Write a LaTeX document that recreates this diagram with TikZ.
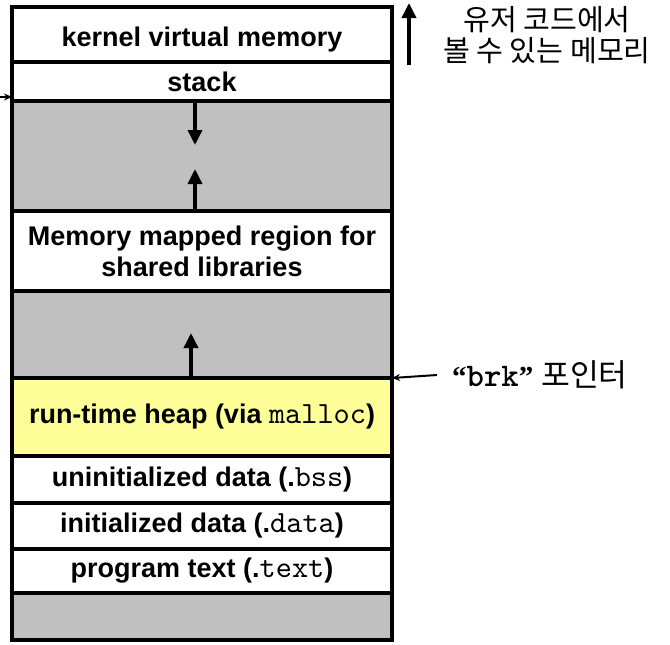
\documentclass[tikz,border=0pt]{standalone}
\usepackage{fontspec}
\setmainfont{Liberation Sans}
\setmonofont{lmmono10-regular.otf}[Scale=1.14,BoldFont=lmmonolt10-bold.otf]
\newfontfamily\krfont{Noto Sans CJK KR}[Scale=1.08]
\newfontfamily\quotefont{Liberation Serif}
\usetikzlibrary{arrows.meta}

\definecolor{gapgray}{HTML}{C0C0C0}
\definecolor{heapyellow}{HTML}{FFFF99}

\begin{document}
\begin{tikzpicture}[x=1pt,y=-1pt,
  seg/.style={draw,line width=4pt,minimum width=380pt,inner sep=0pt,outer sep=0pt,
    fill=white,align=center,font=\fontsize{27}{31}\selectfont\bfseries},
  gap/.style={seg,fill=gapgray},
  growarrow/.style={-{Triangle[length=15pt,width=14pt]},line width=3.5pt},
  ptrarrow/.style={-{Stealth[length=8pt,width=7pt]},line width=2pt},
  note/.style={font=\fontsize{27}{31}\selectfont,align=center}]
  \useasboundingbox (0,0) rectangle (670,645);

  % address space, top to bottom
  \node[seg,minimum height=55pt] (kernel) at (202,34.5) {\raisebox{-5pt}[\height][\depth]{kernel virtual memory}};
  \node[seg,minimum height=39pt] (stack) at (202,81.5) {stack};
  \node[gap,minimum height=110pt] (gap1) at (202,156) {};
  \node[seg,minimum height=80pt] (mmap) at (202,251) {Memory mapped region for\\shared libraries};
  \node[gap,minimum height=87pt] (gap2) at (202,334.5) {};
  \node[seg,fill=heapyellow,minimum height=78pt] (heap) at (202,417) {run-time heap (via {\ttfamily\mdseries malloc})};
  \node[seg,minimum height=47pt] (bss) at (202,479.5) {uninitialized data (.{\ttfamily\mdseries bss})};
  \node[seg,minimum height=46pt] (data) at (202,526) {initialized data (.{\ttfamily\mdseries data})};
  \node[seg,minimum height=44pt] (text) at (202,571) {program text (.{\ttfamily\mdseries text})};
  \node[gap,minimum height=47pt] (bottom) at (202,616.5) {};

  % growth of stack, libraries and heap
  \coordinate (stacktip) at (195,145);
  \coordinate (mmaptip) at (195,169);
  \coordinate (heaptip) at (191,333);
  \draw[growarrow] (stack.south -| stacktip) -- (stacktip);
  \draw[growarrow] (mmap.north -| mmaptip) -- (mmaptip);
  \draw[growarrow] (heap.north -| heaptip) -- (heaptip);

  % labels on the right
  \coordinate (userbase) at (409,65);
  \coordinate (usertop) at (409,3);
  \draw[growarrow] (userbase) -- (usertop);
  \node[note] (userlabel) at (547,35) {\krfont 유저 코드에서\\\krfont 볼 수 있는 메모리};

  \node[note,anchor=west,inner sep=0pt,font=\fontsize{29}{33}\selectfont] (brk) at (452,375)
    {{\quotefont\bfseries “}{\ttfamily\bfseries brk}{\quotefont\bfseries ”} {\krfont 포인터}};
  \coordinate (brktail) at (437,375);
  \draw[ptrarrow] (brktail) -- (heap.north east);

  \coordinate (rsp) at (0,97);
  \draw[ptrarrow] (rsp) -- (stack.south west |- rsp);
\end{tikzpicture}
\end{document}
